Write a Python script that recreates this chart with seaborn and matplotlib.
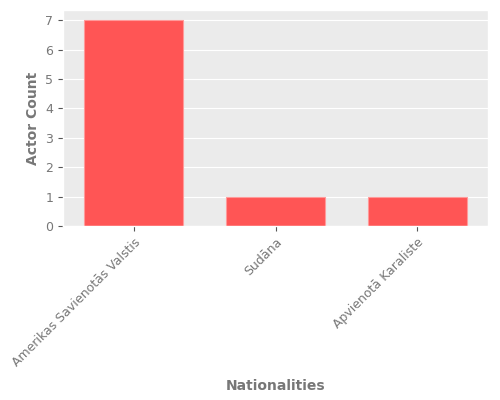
import pandas as pd
import matplotlib
matplotlib.use("Agg")
import matplotlib.pyplot as plt
import seaborn as sns

nationalities = ["Amerikas Savienotās Valstis", "Sudāna", "Apvienotā Karaliste"]
actor_counts = [7, 1, 1]

df = pd.DataFrame({"Nationalities": nationalities, "Actor Count": actor_counts})

plt.style.use("ggplot")
fig, ax = plt.subplots(figsize=(5, 4), dpi=100)
fig.subplots_adjust(left=0.126, right=0.976, top=0.975, bottom=0.435)
ax.set_facecolor("#ebebeb")

sns.barplot(data=df, x="Nationalities", y="Actor Count", color="#ff5555",
            saturation=1, width=0.7, edgecolor="#ff9a9a", linewidth=0.8, ax=ax)

ax.set_xlim(-0.5, 2.5)
ax.set_ylim(0, 7.35)
ax.set_yticks(range(0, 8))
ax.set_xlabel("Nationalities", fontsize=10, fontweight="bold", color="#777777", labelpad=7)
ax.set_ylabel("Actor Count", fontsize=10, fontweight="bold", color="#777777")
plt.setp(ax.get_xticklabels(), rotation=45, ha="right", rotation_mode="anchor",
         fontsize=9, color="#777777")
plt.setp(ax.get_yticklabels(), fontsize=9, color="#777777")

fig.savefig("out.png")
